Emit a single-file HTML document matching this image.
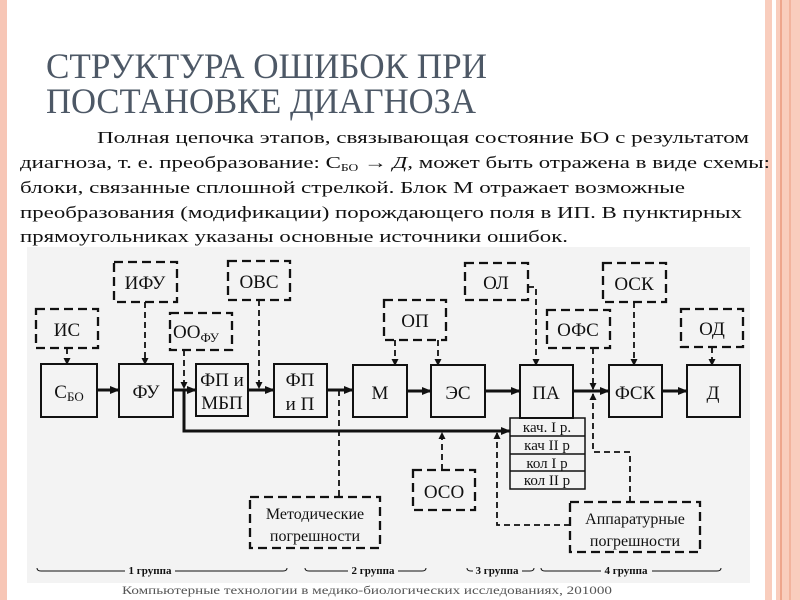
<!DOCTYPE html>
<html><head><meta charset="utf-8"><style>
html,body{margin:0;padding:0;background:#fff;}
svg{display:block}
</style></head><body>
<svg width="800" height="600" viewBox="0 0 800 600" xmlns="http://www.w3.org/2000/svg">
<defs>
<marker id="a" markerWidth="10" markerHeight="8" refX="9" refY="4" orient="auto" markerUnits="userSpaceOnUse"><path d="M0,0 L10,4 L0,8 z" fill="#111"/></marker>
<marker id="s" markerWidth="7" markerHeight="7" refX="6" refY="3.5" orient="auto" markerUnits="userSpaceOnUse"><path d="M0,0 L7,3.5 L0,7 z" fill="#111"/></marker>
</defs>
<rect width="800" height="600" fill="#fff"/>
<rect x="0" y="0" width="7" height="600" fill="#f7c6b6"/>
<rect x="765" y="0" width="35" height="600" fill="#f9cdbd"/>
<rect x="772" y="0" width="4" height="600" fill="#fff"/>
<rect x="780" y="0" width="2" height="600" fill="#eea58c"/>
<rect x="789" y="0" width="2" height="600" fill="#f2b49e"/>
<g font-family="Liberation Serif, serif" fill="#4d5866" font-size="36">
<text x="46" y="78" textLength="441" lengthAdjust="spacingAndGlyphs">СТРУКТУРА ОШИБОК ПРИ</text>
<text x="46" y="113" textLength="430" lengthAdjust="spacingAndGlyphs">ПОСТАНОВКЕ ДИАГНОЗА</text>
</g>
<g font-family="Liberation Serif, serif" fill="#111" font-size="17">
<text x="97" y="143" textLength="652" lengthAdjust="spacingAndGlyphs">Полная цепочка этапов, связывающая состояние БО с результатом</text>
<text x="20" y="168" textLength="750" lengthAdjust="spacingAndGlyphs">диагноза, т. е. преобразование: С<tspan font-size="10" dy="3">БО</tspan><tspan dy="-3"> → </tspan><tspan font-style="italic">Д,</tspan> может быть отражена в виде схемы:</text>
<text x="20" y="193" textLength="665" lengthAdjust="spacingAndGlyphs">блоки, связанные сплошной стрелкой. Блок М отражает возможные</text>
<text x="20" y="218" textLength="722" lengthAdjust="spacingAndGlyphs">преобразования (модификации) порождающего поля в ИП. В пунктирных</text>
<text x="20" y="242" textLength="548" lengthAdjust="spacingAndGlyphs">прямоугольниках указаны основные источники ошибок.</text>
</g>
<rect x="27" y="247" width="723" height="336" fill="#f3f3f3"/>
<g font-family="Liberation Serif, serif" fill="#111" font-size="19" text-anchor="middle">
<g fill="none" stroke="#111" stroke-width="2">
<rect x="41" y="364" width="56" height="53"/>
<rect x="119" y="364" width="54" height="53"/>
<rect x="196" y="364" width="52" height="52"/>
<rect x="274" y="364" width="53" height="53"/>
<rect x="353" y="365" width="54" height="52"/>
<rect x="431" y="365" width="54" height="52"/>
<rect x="520" y="365" width="53" height="53"/>
<rect x="609" y="365" width="53" height="52"/>
<rect x="687" y="365" width="53" height="52"/>
<rect x="510" y="418" width="75" height="71" stroke-width="1.5"/>
<line x1="510" y1="436" x2="585" y2="436" stroke-width="1.5"/>
<line x1="510" y1="454" x2="585" y2="454" stroke-width="1.5"/>
<line x1="510" y1="471" x2="585" y2="471" stroke-width="1.5"/>
</g>
<text x="69" y="398">С<tspan font-size="13" dy="3">БО</tspan></text>
<text x="146" y="398">ФУ</text>
<text x="222" y="386">ФП и</text>
<text x="222" y="409">МБП</text>
<text x="300" y="386">ФП</text>
<text x="300" y="410">и П</text>
<text x="380" y="399">М</text>
<text x="458" y="399">ЭС</text>
<text x="546" y="399">ПА</text>
<text x="635" y="399">ФСК</text>
<text x="713" y="399">Д</text>
<g font-size="15">
<text x="547" y="432">кач. I р.</text>
<text x="547" y="450">кач II р</text>
<text x="547" y="468">кол I р</text>
<text x="547" y="485">кол II р</text>
</g>
<g fill="none" stroke="#111" stroke-width="2.3" stroke-dasharray="9,5">
<rect x="36" y="309" width="62" height="39"/>
<rect x="114" y="262" width="63" height="40"/>
<rect x="228" y="261" width="62" height="39"/>
<rect x="170" y="313" width="62" height="37"/>
<rect x="384" y="300" width="62" height="40"/>
<rect x="465" y="263" width="63" height="37"/>
<rect x="547" y="310" width="63" height="38"/>
<rect x="603" y="263" width="63" height="39"/>
<rect x="681" y="309" width="62" height="38"/>
<rect x="413" y="470" width="62" height="40"/>
<rect x="250" y="497" width="130" height="51"/>
<rect x="570" y="502" width="130" height="50"/>
</g>
<text x="67" y="336">ИС</text>
<text x="145" y="289">ИФУ</text>
<text x="259" y="288">ОВС</text>
<text x="196" y="338">ОО<tspan font-size="13" dy="4">ФУ</tspan></text>
<text x="415" y="327">ОП</text>
<text x="496" y="289">ОЛ</text>
<text x="578" y="336">ОФС</text>
<text x="634" y="290">ОСК</text>
<text x="712" y="335">ОД</text>
<text x="444" y="498">ОСО</text>
<text x="315" y="519" font-size="16">Методические</text>
<text x="315" y="541" font-size="16">погрешности</text>
<text x="635" y="524" font-size="16">Аппаратурные</text>
<text x="635" y="546" font-size="16">погрешности</text>
<g stroke="#111" stroke-width="3" fill="none" marker-end="url(#a)">
<line x1="97" y1="390" x2="119" y2="390"/>
<line x1="173" y1="390" x2="196" y2="390"/>
<line x1="248" y1="390" x2="274" y2="390"/>
<line x1="327" y1="390" x2="353" y2="390"/>
<line x1="407" y1="391" x2="431" y2="391"/>
<line x1="485" y1="391" x2="520" y2="391"/>
<line x1="573" y1="391" x2="609" y2="391"/>
<line x1="662" y1="391" x2="687" y2="391"/>
<polyline points="184,390 184,431 510,431"/>
</g>
<g stroke="#111" stroke-width="1.8" fill="none" stroke-dasharray="6,4" marker-end="url(#s)">
<line x1="67" y1="348" x2="67" y2="364"/>
<line x1="145" y1="302" x2="145" y2="364"/>
<line x1="184" y1="350" x2="184" y2="388"/>
<line x1="259" y1="300" x2="259" y2="388"/>
<line x1="395" y1="340" x2="395" y2="365"/>
<line x1="438" y1="340" x2="438" y2="365"/>
<polyline points="528,287 536,287 536,365"/>
<line x1="593" y1="348" x2="593" y2="389"/>
<line x1="634" y1="302" x2="634" y2="365"/>
<line x1="712" y1="347" x2="712" y2="365"/>
<line x1="442" y1="470" x2="442" y2="433"/>
<polyline points="570,525 497,525 497,433"/>
<polyline points="630,502 630,452 593,452 593,394"/>
</g>
<g stroke="#111" stroke-width="1.8" fill="none" stroke-dasharray="6,4">
<line x1="339" y1="390" x2="339" y2="497"/>
</g>
<g font-size="11" font-weight="bold" stroke="none">
<text x="150" y="574">1 группа</text>
<text x="373" y="574">2 группа</text>
<text x="497" y="574">3 группа</text>
<text x="626" y="574">4 группа</text>
</g>
<g stroke="#111" stroke-width="1" fill="none">
<path d="M37,568 q0,3 4,3 L125,571 M175,571 L283,571 q4,0 4,-3"/>
<path d="M305,568 q0,3 4,3 L348,571 M398,571 L422,571 q4,0 4,-3"/>
<path d="M467,568 q0,3 4,3 L473,571 M522,571 L530,571 q4,0 4,-3"/>
<path d="M541,568 q0,3 4,3 L601,571 M652,571 L717,571 q4,0 4,-3"/>
</g>
</g>
<text x="122" y="594" font-family="Liberation Serif, serif" font-size="11.5" fill="#555" textLength="490" lengthAdjust="spacingAndGlyphs">Компьютерные технологии в медико-биологических исследованиях, 201000</text>
</svg>
</body></html>
